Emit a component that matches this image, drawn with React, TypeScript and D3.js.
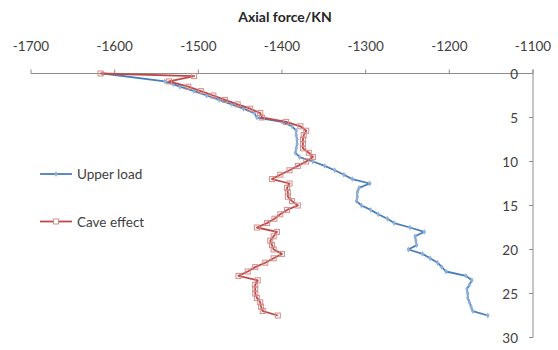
import React from 'react';
import * as d3 from 'd3';

// depth (m) and axial force (KN)
const upperDepth = [0, 0.9, 1.2, 1.5, 2, 2.5, 3, 3.5, 4, 4.5, 5, 5.5, 6, 6.5, 7, 7.5, 8, 8.5, 9, 9.5, 10, 10.5, 11, 11.5, 12, 12.5, 13, 13.5, 14, 14.5, 15, 15.5, 16, 16.5, 17, 17.5, 18, 18.5, 19, 19.5, 20, 20.5, 21, 21.5, 22, 22.5, 23, 23.5, 24, 24.5, 25, 25.5, 26, 26.5, 27, 27.5];
const upperLoad = [-1614, -1540, -1530, -1522, -1505, -1490, -1475, -1460, -1446, -1433, -1430, -1400, -1388, -1383, -1383, -1382, -1382, -1383, -1384, -1379, -1363, -1349, -1337, -1326, -1316, -1295, -1308, -1310, -1310, -1311, -1305, -1294, -1285, -1274, -1266, -1247, -1230, -1241, -1240, -1239, -1249, -1232, -1223, -1214, -1209, -1204, -1180, -1173, -1176, -1179, -1178, -1178, -1176, -1174, -1172, -1154];

const caveDepth = [0, 0.3, 0.9, 1.5, 2, 2.5, 3, 3.5, 4, 4.5, 5, 5.5, 6, 6.5, 7, 7.5, 8, 8.5, 9, 9.5, 10, 10.5, 11, 11.5, 12, 12.5, 13, 13.5, 14, 14.5, 15, 15.5, 16, 16.5, 17, 17.5, 18, 18.5, 19, 19.5, 20, 20.5, 21, 21.5, 22, 22.5, 23, 23.5, 24, 24.5, 25, 25.5, 26, 26.5, 27, 27.5];
const caveEffect = [-1617, -1505, -1535, -1512, -1497, -1482, -1468, -1453, -1438, -1426, -1424, -1395, -1378, -1371, -1374, -1375, -1375, -1375, -1368, -1363, -1371, -1381, -1391, -1402, -1412, -1391, -1394, -1393, -1393, -1388, -1381, -1394, -1402, -1409, -1418, -1430, -1406, -1410, -1414, -1412, -1410, -1400, -1410, -1420, -1432, -1441, -1452, -1429, -1432, -1432, -1432, -1430, -1426, -1425, -1423, -1405];

const xTicks = [-1700, -1600, -1500, -1400, -1300, -1200, -1100];
const yTicks = [0, 5, 10, 15, 20, 25, 30];

const BLUE = '#4a7ebb';
const RED = '#be4b48';
const AXIS = '#8c8c8c';
const FONT = 'Lato, "Open Sans", sans-serif';

export default function App() {
  const x = d3.scaleLinear().domain([-1700, -1100]).range([31, 533]);
  const y = d3.scaleLinear().domain([0, 30]).range([73.5, 337.5]);

  const upper = upperDepth.map((d, i) => [upperLoad[i], d] as [number, number]);
  const cave = caveDepth.map((d, i) => [caveEffect[i], d] as [number, number]);

  const line = d3
    .line<[number, number]>()
    .x(d => x(d[0]))
    .y(d => y(d[1]));

  const diamond = d3.symbol().type(d3.symbolDiamond).size(10)();

  return (
    <div style={{ position: 'absolute', left: 0, top: 0 }}>
      <svg width={558} height={350} style={{ display: 'block', background: '#fff' }}>
        <text x={285} y={22} textAnchor="middle" fontFamily={FONT} fontWeight="bold" fontSize={14} fill="#262626">
          Axial force/KN
        </text>

        {/* x axis on top */}
        <line x1={x(-1700)} x2={x(-1100)} y1={y(0)} y2={y(0)} stroke={AXIS} />
        {xTicks.map(t => (
          <g key={t}>
            <line x1={x(t)} x2={x(t)} y1={y(0) - 4} y2={y(0)} stroke={AXIS} />
            <text x={x(t)} y={51} textAnchor="middle" fontFamily={FONT} fontSize={13.5} fill="#404040">
              {t}
            </text>
          </g>
        ))}

        {/* y axis on right */}
        <line x1={x(-1100)} x2={x(-1100)} y1={y(0) - 4} y2={y(30)} stroke={AXIS} />
        {yTicks.map(t => (
          <g key={t}>
            <line x1={x(-1100) - 4} x2={x(-1100)} y1={y(t)} y2={y(t)} stroke={AXIS} />
            <text x={518} y={y(t) + 5} textAnchor="end" fontFamily={FONT} fontSize={13.5} fill="#404040">
              {t}
            </text>
          </g>
        ))}

        {/* Upper load */}
        <path d={line(upper) || ''} fill="none" stroke={BLUE} strokeWidth={1.8} strokeLinejoin="round" />
        {upper.map((d, i) => (
          <path key={i} d={diamond} transform={`translate(${x(d[0])},${y(d[1])})`} fill="#8fb0da" stroke="none" />
        ))}

        {/* Cave effect */}
        <path d={line(cave) || ''} fill="none" stroke={RED} strokeWidth={1.8} strokeLinejoin="round" />
        {cave.map((d, i) => (
          <rect key={i} x={x(d[0]) - 2.5} y={y(d[1]) - 2.5} width={5} height={5} fill="none" stroke="#d68c8a" strokeWidth={1} />
        ))}

        {/* legend */}
        <line x1={40} x2={72} y1={174} y2={174} stroke={BLUE} strokeWidth={1.8} />
        <path d={diamond} transform="translate(56,174)" fill="#8fb0da" />
        <text x={77} y={179} fontFamily={FONT} fontSize={13.5} fill="#404040">Upper load</text>

        <line x1={40} x2={72} y1={221.5} y2={221.5} stroke={RED} strokeWidth={1.8} />
        <rect x={53.5} y={219} width={5} height={5} fill="#fff" stroke="#d68c8a" />
        <text x={77} y={226.5} fontFamily={FONT} fontSize={13.5} fill="#404040">Cave effect</text>
      </svg>
    </div>
  );
}
